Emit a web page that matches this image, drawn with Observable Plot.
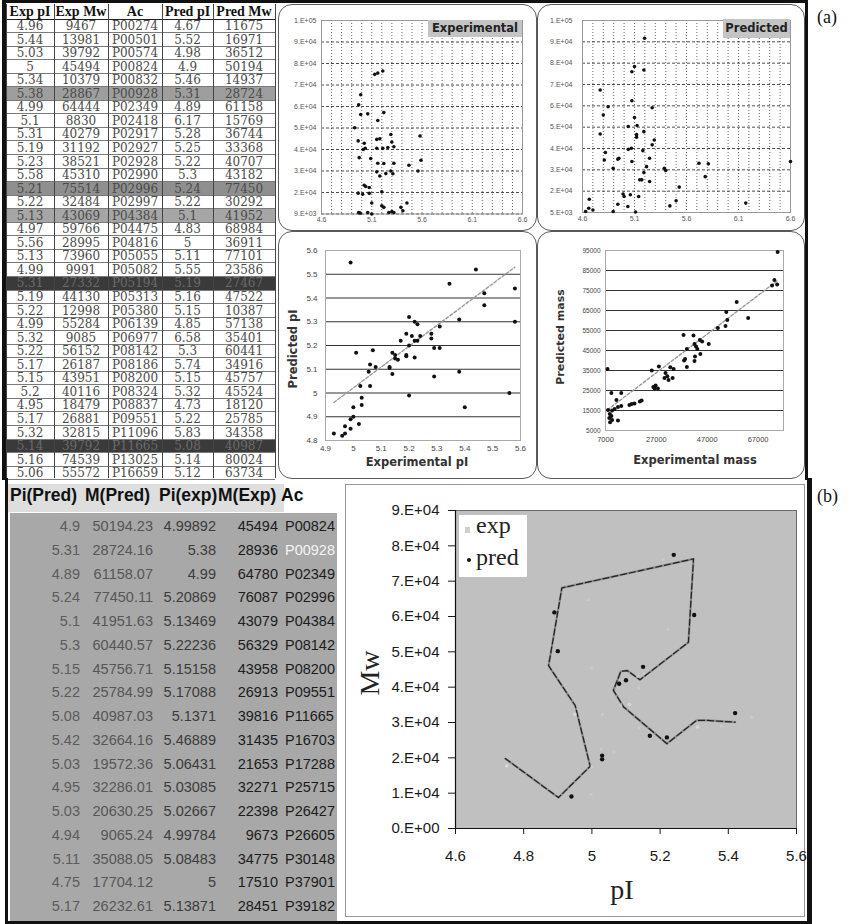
<!DOCTYPE html>
<html><head><meta charset="utf-8">
<script src="https://cdn.jsdelivr.net/npm/d3@7"></script>
<script src="https://cdn.jsdelivr.net/npm/@observablehq/plot@0.6"></script>
<style>
html,body{margin:0;padding:0;background:#fff;}
#root{position:relative;width:851px;height:924px;overflow:hidden;font-family:"Liberation Sans",Arial,sans-serif;}
#root svg{overflow:visible;}
</style></head><body><div id="root"></div>
<script>
// ================= DATA =================
// (a) table
const aHeaders = ["Exp pI","Exp Mw","Ac","Pred pI","Pred Mw"];
const aExpPI = [4.96,5.44,5.03,5,5.34,5.38,4.99,5.1,5.31,5.19,5.23,5.58,5.21,5.22,5.13,4.97,5.56,5.13,4.99,5.31,5.19,5.22,4.99,5.32,5.22,5.17,5.15,5.2,4.95,5.17,5.32,5.14,5.16,5.06];
const aExpMw = [9467,13981,39792,45494,10379,28867,64444,8830,40279,31192,38521,45310,75514,32484,43069,59766,28995,73960,9991,27332,44130,12998,55284,9085,56152,26187,43951,40116,18479,26881,32815,39792,74539,55572];
const aAc = ["P00274","P00501","P00574","P00824","P00832","P00928","P02349","P02418","P02917","P02927","P02928","P02990","P02996","P02997","P04384","P04475","P04816","P05055","P05082","P05194","P05313","P05380","P06139","P06977","P08142","P08186","P08200","P08324","P08837","P09551","P11096","P11665","P13025","P16659"];
const aPredPI = [4.67,5.52,4.98,4.9,5.46,5.31,4.89,6.17,5.28,5.25,5.22,5.3,5.24,5.22,5.1,4.83,5,5.11,5.55,5.19,5.16,5.15,4.85,6.58,5.3,5.74,5.15,5.32,4.73,5.22,5.83,5.08,5.14,5.12];
const aPredMw = [11675,16971,36512,50194,14937,28724,61158,15769,36744,33368,40707,43182,77450,30292,41952,68984,36911,77101,23586,27467,47522,10387,57138,35401,60441,34916,45757,45524,18120,25785,34358,40987,80024,63734];

// (a) Experimental scatter (pI vs Mw)
const expScatPI = [5.13,5.16,5.21,4.99,4.97,4.99,5.06,5.22,5.16,4.93,4.965,5.025,5.035,5.015,5.15,5.18,5.21,5.26,5.29,5.30,5.32,5.15,5.58,5.59,5.47,5.56,4.975,5.09,5.16,5.22,5.32,5.15,5.18,5.24,5.29,5.31,5.025,5.04,5.075,4.965,5.01,5.075,5.20,5.10,5.20,5.22,4.97,4.985,5.06,5.10,5.27,5.30,5.32,5.39,5.45,5.41];
const expScatMw = [73960,74539,75514,64444,59766,55284,55572,56152,52500,49100,43000,41900,39600,39000,43700,44000,39600,39900,46000,42500,40300,39600,45310,34000,31700,28995,35200,34800,32600,32500,32600,28600,26700,27800,29000,27700,22400,21800,21300,18700,18200,18600,19300,14100,12800,12100,9700,9400,9700,9000,9700,10100,9700,12100,14100,10500];
const expTicksX = [4.6,5.1,5.6,6.1,6.6];
const expTicksY = [9000,19000,29000,39000,49000,59000,69000,79000,89000,99000];
const expTickLabelsY = ["9.E+03","2.E+04","3.E+04","4.E+04","5.E+04","6.E+04","7.E+04","8.E+04","9.E+04","1.E+05"];

// (a) Predicted scatter
const predScatPI = [5.197,5.10,5.075,5.19,4.77,5.075,4.846,4.80,5.27,5.10,5.04,5.125,5.19,4.77,5.12,5.12,5.29,5.27,5.04,5.07,5.18,4.82,4.81,4.94,4.95,5.075,5.245,5.216,4.895,5.387,5.40,5.19,5.72,5.81,5.78,6.6,5.15,5.17,5.245,5.53,4.665,4.99,5.0,5.06,5.14,5.036,4.94,5.50,5.44,4.63,4.66,4.70,4.895,5.11,6.17];
const predScatMw = [86700,73400,71000,71800,62400,57400,54600,50700,54100,49500,45300,45800,42900,41800,41500,40300,39000,36700,34600,35100,34000,33100,29600,30000,30400,28900,30400,26500,25700,25700,24700,23700,28100,27800,21800,28900,20300,20300,19500,16900,11200,13700,12500,13300,12500,7800,8900,10500,8100,5500,7000,6200,5500,5200,9400];
const predTicksX = [4.6,5.1,5.6,6.1,6.6];
const predTicksY = [5000,15000,25000,35000,45000,55000,65000,75000,85000,95000];
const predTickLabelsY = ["5.E+03","2.E+04","3.E+04","4.E+04","5.E+04","6.E+04","7.E+04","8.E+04","9.E+04","1.E+05"];

// (a) pI correlation
const pIExp = [4.99,5.44,5.345,5.47,5.47,5.58,5.58,5.38,5.20,5.22,5.23,5.28,5.28,5.31,5.19,5.21,5.24,5.17,5.22,5.23,5.20,5.07,5.01,5.14,5.29,5.31,5.15,5.19,5.19,5.22,5.16,5.15,5.06,5.08,5.13,5.13,5.055,5.14,5.38,5.29,5.025,5.06,5.03,5.03,5.00,5.20,5.56,5.40,4.99,5.00,4.99,5.02,4.97,4.97,4.93,4.96];
const pIPred = [5.55,5.52,5.46,5.42,5.37,5.44,5.30,5.31,5.32,5.30,5.29,5.25,5.23,5.28,5.25,5.24,5.24,5.22,5.22,5.22,5.20,5.18,5.17,5.17,5.19,5.19,5.16,5.16,5.155,5.15,5.14,5.145,5.12,5.11,5.11,5.105,5.09,5.08,5.09,5.07,5.03,5.03,4.98,4.95,4.94,4.99,5.00,4.94,4.89,4.90,4.85,4.87,4.86,4.83,4.83,4.82];
const pITrendX = [4.93,5.58];
const pITrendY = [4.96,5.53];
const pITicksX = [4.9,5,5.1,5.2,5.3,5.4,5.5,5.6];
const pITicksY = [4.8,4.9,5,5.1,5.2,5.3,5.4,5.5,5.6];

// (a) mass correlation
const massExp = [74700,73400,72500,74500,58600,54500,54900,54200,51200,63100,47600,44100,45000,41600,37700,42000,42600,43100,39000,44300,42200,38300,37900,42000,39000,33800,32500,28000,25200,30600,31300,30200,31800,33400,26700,25800,26300,27600,21200,20500,18400,17300,16400,13200,9300,11300,7800,8000,9600,10600,11900,13200,8700,9300,8500,9600,8800,11900];
const massPred = [94200,80300,77500,78000,69200,64200,60300,57200,56300,61300,48300,50300,49500,52500,52800,48300,47000,45800,45800,43300,42000,40800,40000,39700,36700,35800,36600,37000,35000,33700,32100,31300,30300,31200,27500,26700,26000,26000,20000,19500,18500,18200,17800,23800,23700,20300,35800,15300,15000,15800,16700,17200,13300,12200,11200,10300,9100,10000];
const massTrendX = [7800,74700];
const massTrendY = [15300,80000];
const massTicksX = [7000,27000,47000,67000];
const massTicksY = [5000,15000,25000,35000,45000,55000,65000,75000,85000,95000];

// (b) table
const bHeaders = ["Pi(Pred)","M(Pred)","Pi(exp)","M(Exp)","Ac"];
const bPiPred = [4.9,5.31,4.89,5.24,5.1,5.3,5.15,5.22,5.08,5.42,5.03,4.95,5.03,4.94,5.11,4.75,5.17];
const bMPred = [50194.23,28724.16,61158.07,77450.11,41951.63,60440.57,45756.71,25784.99,40987.03,32664.16,19572.36,32286.01,20630.25,9065.24,35088.05,17704.12,26232.61];
const bPiExp = [4.99892,5.38,4.99,5.20869,5.13469,5.22236,5.15158,5.17088,5.1371,5.46889,5.06431,5.03085,5.02667,4.99784,5.08483,5,5.13871];
const bMExp = [45494,28936,64780,76087,43079,56329,43958,26913,39816,31435,21653,32271,22398,9673,34775,17510,28451];
const bAc = ["P00824","P00928","P02349","P02996","P04384","P08142","P08200","P09551","P11665","P16703","P17288","P25715","P26427","P26605","P30148","P37901","P39182"];
// (b) dashed path traced in the chart
const bPathPI = [4.746,4.902,4.995,4.951,4.873,4.912,5.298,5.283,5.141,5.104,5.085,5.063,5.093,5.220,5.307,5.337,5.420];
const bPathMw = [19800,8760,17600,34800,46100,68100,76300,52700,42100,44700,44500,39100,34400,24000,30600,30600,30100];
const bTicksX = [4.6,4.8,5,5.2,5.4,5.6];
const bTicksY = [0,10000,20000,30000,40000,50000,60000,70000,80000,90000];
const bTickLabelsY = ["0.E+00","1.E+04","2.E+04","3.E+04","4.E+04","5.E+04","6.E+04","7.E+04","8.E+04","9.E+04"];

// ================= RENDER =================
const root = document.getElementById("root");
function el(css, text) {
  const e = document.createElement("div");
  e.style.cssText = "position:absolute;" + css;
  if (text != null) e.textContent = text;
  root.appendChild(e);
  return e;
}
function mount(area, m, opts) {
  const svg = Plot.plot(Object.assign({
    width: area.w + m.l + m.r, height: area.h + m.t + m.b,
    marginLeft: m.l, marginRight: m.r, marginTop: m.t, marginBottom: m.b
  }, opts));
  const d = el(`left:${area.x - m.l}px;top:${area.y - m.t}px;`);
  d.appendChild(svg);
  return svg;
}
const pts = (xs, ys) => xs.map((x, i) => ({x, y: ys[i]}));
const lblMap = (ticks, labels) => { const mp = new Map(ticks.map((v, i) => [v, labels[i]])); return d => mp.get(d); };
const num = d => String(+d.toFixed(2));

// ---- table (a)
const colEdges = [6, 54, 108, 162, 213, 275];
const rowH = 13.55, headTop = 4, headH = 15;
const shade = {P00928: "#9e9e9e", P02996: "#8f8f8f", P04384: "#a6a6a6", P05194: "#3a3a3a", P11665: "#3a3a3a"};
aAc.forEach((ac, i) => {
  if (shade[ac]) el(`left:6px;top:${headTop + headH + i * rowH}px;width:269px;height:${rowH}px;background:${shade[ac]}`);
});
aHeaders.forEach((h, j) => {
  el(`left:${colEdges[j]}px;top:${headTop}px;width:${colEdges[j + 1] - colEdges[j]}px;height:${headH}px;line-height:${headH}px;text-align:center;font:bold 14px "Liberation Serif";color:#111;white-space:nowrap`, h);
});
aAc.forEach((ac, i) => {
  const vals = [String(aExpPI[i]), String(aExpMw[i]), ac, String(aPredPI[i]), String(aPredMw[i])];
  const dark = shade[ac] === "#3a3a3a";
  vals.forEach((v, j) => {
    el(`left:${colEdges[j]}px;top:${headTop + headH + i * rowH}px;width:${colEdges[j + 1] - colEdges[j]}px;height:${rowH}px;line-height:${rowH}px;text-align:center;font:12px "DejaVu Serif";color:${dark ? "#6a6a6a" : "#4a4a4a"};white-space:nowrap;overflow:hidden`, v);
  });
});
for (let i = 0; i <= aAc.length; i++) {
  el(`left:6px;top:${headTop + headH + i * rowH - 0.5}px;width:269px;height:${i === 0 ? 1.5 : 1}px;background:${i === 0 ? "#222" : "#7a7a7a"}`);
}
colEdges.forEach(x => el(`left:${x}px;top:${headTop}px;width:1px;height:474px;background:#444`));

// ---- outer borders
el("left:2px;top:0;width:806px;height:3px;background:#111");
el("left:2px;top:0;width:4px;height:480px;background:#111");
el("left:805px;top:0;width:3px;height:480px;background:#111");
el("left:5px;top:478px;width:3px;height:446px;background:#111");
el("left:807px;top:478px;width:5px;height:446px;background:#111");
el("left:5px;top:921px;width:807px;height:3px;background:#111");

// ---- panel frames (a)
const frames = [[278, 4, 259, 227], [537, 4, 268, 227], [278, 231, 259, 248], [537, 231, 268, 248]];
frames.forEach(([x, y, w, h]) => el(`left:${x}px;top:${y}px;width:${w}px;height:${h}px;border:1.5px solid #5a5a5a;border-radius:14px;box-sizing:border-box`));

const smallStyle = {background: "transparent", overflow: "visible", fontFamily: "Liberation Sans", fontSize: "7px", color: "#555"};

// ---- Experimental scatter
mount({x: 321, y: 20, w: 201, h: 193.5}, {l: 36, r: 4, t: 4, b: 14}, {
  style: smallStyle,
  x: {domain: [4.6, 6.6], label: null}, y: {domain: [9000, 99000], label: null},
  marks: [
    Plot.gridX({ticks: 20, stroke: "#000", strokeOpacity: 0.6, strokeDasharray: "1,2"}),
    Plot.gridY(expTicksY, {stroke: "#000", strokeOpacity: 0.7, strokeDasharray: "3,2"}),
    Plot.frame({stroke: "#999"}),
    Plot.dot(pts(expScatPI, expScatMw), {x: "x", y: "y", r: 1.8, fill: "#111", stroke: null}),
    Plot.axisX(expTicksX, {tickSize: 0, tickPadding: 3, fontSize: 7, tickFormat: d => d.toFixed(1), label: null}),
    Plot.axisY(expTicksY, {tickSize: 0, tickPadding: 5, fontSize: 7, tickFormat: lblMap(expTicksY, expTickLabelsY), label: null})
  ]
});
el('left:428px;top:20px;width:94px;height:17px;background:#c4c4c4;font:bold 11.5px "DejaVu Sans";line-height:17px;text-align:center;color:#222', "Experimental");

// ---- Predicted scatter
mount({x: 582, y: 20, w: 208, h: 192}, {l: 40, r: 6, t: 4, b: 14}, {
  style: smallStyle,
  x: {domain: [4.6, 6.6], label: null}, y: {domain: [5000, 95000], label: null},
  marks: [
    Plot.gridX({ticks: 20, stroke: "#000", strokeOpacity: 0.6, strokeDasharray: "1,2"}),
    Plot.gridY(predTicksY, {stroke: "#000", strokeOpacity: 0.7, strokeDasharray: "3,2"}),
    Plot.frame({stroke: "#999"}),
    Plot.dot(pts(predScatPI, predScatMw), {x: "x", y: "y", r: 1.8, fill: "#111", stroke: null}),
    Plot.axisX(predTicksX, {tickSize: 0, tickPadding: 4, fontSize: 7, tickFormat: d => d.toFixed(1), label: null}),
    Plot.axisY(predTicksY, {tickSize: 0, tickPadding: 10, fontSize: 7, tickFormat: lblMap(predTicksY, predTickLabelsY), label: null})
  ]
});
el('left:723px;top:19px;width:67px;height:19px;background:#c4c4c4;font:bold 11.5px "DejaVu Sans";line-height:19px;text-align:center;color:#222', "Predicted");

// ---- pI correlation
mount({x: 325, y: 250, w: 195, h: 190}, {l: 30, r: 6, t: 6, b: 16}, {
  style: Object.assign({}, smallStyle, {fontSize: "8px", color: "#444"}),
  x: {domain: [4.9, 5.6], label: null}, y: {domain: [4.8, 5.6], label: null},
  marks: [
    Plot.ruleY(pITicksY, {stroke: "#333", strokeWidth: 1.2}),
    Plot.frame({stroke: "#aaa"}),
    Plot.line(pts(pITrendX, pITrendY), {x: "x", y: "y", stroke: "#999", strokeWidth: 1.4, strokeDasharray: "3,2"}),
    Plot.dot(pts(pIExp, pIPred), {x: "x", y: "y", r: 2, fill: "#111", stroke: null}),
    Plot.axisX(pITicksX, {tickSize: 0, tickPadding: 5, fontSize: 8, tickFormat: num, label: null}),
    Plot.axisY(pITicksY, {tickSize: 0, tickPadding: 8, fontSize: 8, tickFormat: num, label: null})
  ]
});
el('left:417px;top:462px;transform:translate(-50%,-50%);font:bold 11.5px "DejaVu Sans";color:#333;white-space:nowrap', "Experimental pI");
el('left:293px;top:349px;transform:translate(-50%,-50%) rotate(-90deg);font:bold 11.5px "DejaVu Sans";color:#333;white-space:nowrap', "Predicted pI");

// ---- mass correlation
mount({x: 605, y: 250, w: 178, h: 180}, {l: 30, r: 6, t: 6, b: 16}, {
  style: Object.assign({}, smallStyle, {fontSize: "7px", color: "#444"}),
  x: {domain: [7000, 77000], label: null}, y: {domain: [5000, 95000], label: null},
  marks: [
    Plot.ruleY(massTicksY, {stroke: "#333", strokeWidth: 1.1}),
    Plot.frame({stroke: "#aaa"}),
    Plot.line(pts(massTrendX, massTrendY), {x: "x", y: "y", stroke: "#999", strokeWidth: 1.4, strokeDasharray: "3,2"}),
    Plot.dot(pts(massExp, massPred), {x: "x", y: "y", r: 2, fill: "#111", stroke: null}),
    Plot.axisX(massTicksX, {tickSize: 0, tickPadding: 6, fontSize: 7.5, tickFormat: d => String(d), label: null}),
    Plot.axisY(massTicksY, {tickSize: 0, tickPadding: 5, fontSize: 6.5, tickFormat: d => String(d), label: null})
  ]
});
el('left:695px;top:460px;transform:translate(-50%,-50%);font:bold 11.5px "DejaVu Sans";color:#333;white-space:nowrap', "Experimental mass");
el('left:560px;top:337px;transform:translate(-50%,-50%) rotate(-90deg);font:bold 11px "DejaVu Sans";color:#333;white-space:nowrap', "Predicted mass");

// ---- labels (a) (b)
el('left:817px;top:7px;font:18px "Liberation Serif";color:#111', "(a)");
el('left:817px;top:486px;font:18px "Liberation Serif";color:#111', "(b)");

// ---- table (b)
el("left:8px;top:484px;width:276px;height:28px;background:#dedede");
const bHeadLeft = [10, 85, 159, 218, 281];
bHeaders.forEach((h, j) => el(`left:${bHeadLeft[j]}px;top:485px;line-height:26px;font:bold 17.5px "Liberation Sans";color:#111;white-space:nowrap`, h));
el("left:10px;top:513px;width:327px;height:408px;background:#a8a8a8");
const bRight = [80, 153, 216, 278];
const bColors = ["#5c5c5c", "#565656", "#3c3c3c", "#1c1c1c"];
bAc.forEach((ac, i) => {
  const top = 528 + i * 23.75 - 10;
  const vals = [String(bPiPred[i]), bMPred[i].toFixed(2), String(bPiExp[i]), String(bMExp[i])];
  vals.forEach((v, j) => el(`left:${bRight[j] - 80}px;width:80px;top:${top}px;line-height:20px;text-align:right;font:14.5px "Liberation Sans";color:${bColors[j]};white-space:nowrap`, v));
  el(`left:285px;top:${top}px;line-height:20px;font:14.5px "Liberation Sans";color:${ac === "P00928" ? "#f4f4f4" : "#1c1c1c"};white-space:nowrap`, ac);
});

// ---- chart (b)
// predicted points that appear faint (grey) in the figure
const faintPred = new Set(["P00928", "P25715", "P30148", "P37901"]);
const predPts = bPiPred.map((x, i) => ({x, y: bMPred[i], faint: faintPred.has(bAc[i])}));
el("left:345px;top:484px;width:460px;height:433px;border:1px solid #999;box-sizing:border-box;background:#fff");
mount({x: 455, y: 510, w: 341, h: 318}, {l: 95, r: 8, t: 8, b: 50}, {
  style: {background: "transparent", overflow: "visible", fontFamily: "Liberation Sans", fontSize: "15px", color: "#1a1a1a"},
  x: {domain: [4.6, 5.6], label: null}, y: {domain: [0, 90000], label: null},
  marks: [
    Plot.frame({fill: "#c0c0c0", stroke: "#6a6a6a"}),
    Plot.line(pts(bPathPI, bPathMw), {x: "x", y: "y", stroke: "#8a8a8a", strokeWidth: 2.2}),
    Plot.line(pts(bPathPI, bPathMw), {x: "x", y: "y", stroke: "#222", strokeWidth: 1.2, strokeDasharray: "6,3"}),
    Plot.dot(pts(bPiExp, bMExp), {x: "x", y: "y", symbol: "square", r: 1.5, fill: "#cacaca", stroke: null}),
    Plot.dot(predPts.filter(d => d.faint), {x: "x", y: "y", r: 1.8, fill: "#d8d8d8", stroke: null}),
    Plot.dot(predPts.filter(d => !d.faint), {x: "x", y: "y", r: 2.2, fill: "#111", stroke: null}),
    Plot.ruleY([0], {stroke: "#111", strokeWidth: 1.2}),
    Plot.ruleX([4.6], {stroke: "#111", strokeWidth: 1.2}),
    Plot.axisX(bTicksX, {tickSize: 6, tickPadding: 16, fontSize: 15, tickFormat: num, label: null}),
    Plot.axisY(bTicksY, {tickSize: 7, tickPadding: 9, fontSize: 15, tickFormat: lblMap(bTicksY, bTickLabelsY), label: null})
  ]
});
el("left:459px;top:515px;width:68px;height:62px;background:#fff");
el("left:465px;top:527px;width:5px;height:6px;background:#cfcfcf");
el("left:467px;top:558px;width:4px;height:4px;border-radius:2px;background:#111");
el('left:476px;top:513px;font:24px/1 "Liberation Serif";color:#222', "exp");
el('left:476px;top:545px;font:24px/1 "Liberation Serif";color:#222', "pred");
el('left:370px;top:673px;transform:translate(-50%,-50%) rotate(-90deg);font:28px "Liberation Serif";color:#222;white-space:nowrap', "Mw");
el('left:622px;top:890px;transform:translate(-50%,-50%);font:28px "Liberation Serif";color:#222;white-space:nowrap', "pI");
</script></body></html>
